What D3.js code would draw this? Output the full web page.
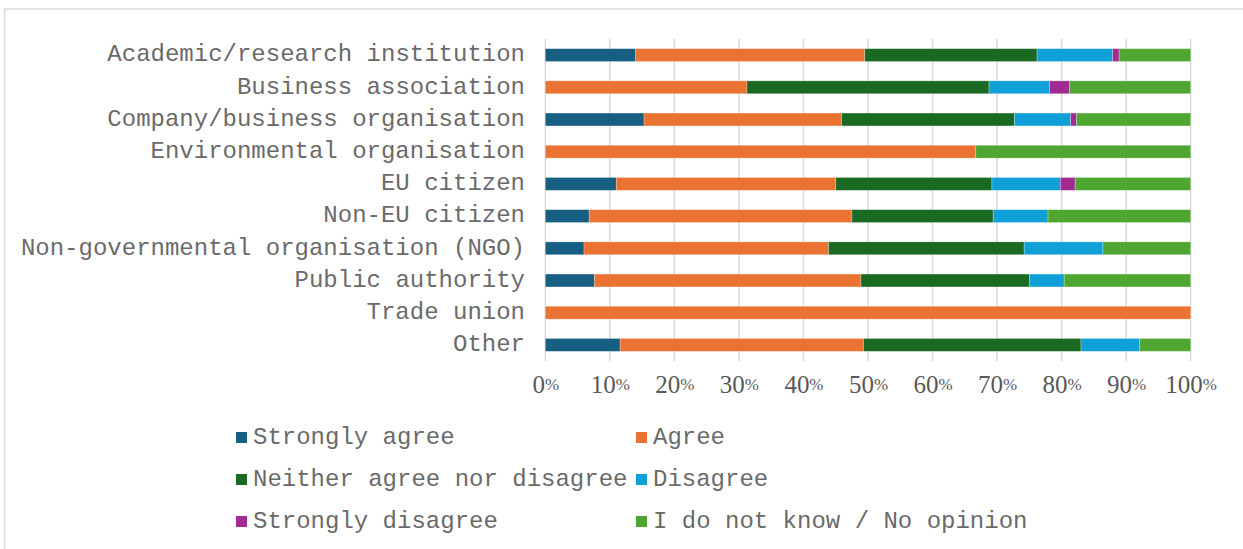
<!DOCTYPE html>
<html>
<head>
<meta charset="utf-8">
<script src="https://cdn.jsdelivr.net/npm/d3@7"></script>
<style>
  body { margin: 0; background: #fff; }
  svg { display: block; }
</style>
</head>
<body>
<script>
const categories = [
  'Academic/research institution',
  'Business association',
  'Company/business organisation',
  'Environmental organisation',
  'EU citizen',
  'Non-EU citizen',
  'Non-governmental organisation (NGO)',
  'Public authority',
  'Trade union',
  'Other'
]

const seriesNames = [
  'Strongly agree',
  'Agree',
  'Neither agree nor disagree',
  'Disagree',
  'Strongly disagree',
  'I do not know / No opinion'
]

// percentage per category, same order as categories
const stronglyAgree    = [14.0, 0,     15.3, 0,    11.0, 6.8,  6.0,  7.6,  0,   11.6]
const agree            = [35.5, 31.25, 30.6, 66.7, 34.0, 40.7, 37.9, 41.3, 100, 37.7]
const neither          = [26.7, 37.5,  26.8, 0,    24.2, 21.9, 30.3, 26.1, 0,   33.7]
const disagree         = [11.7, 9.375, 8.7,  0,    10.6, 8.5,  12.2, 5.4,  0,   9.1]
const stronglyDisagree = [1.0,  3.125, 0.9,  0,    2.3,  0,    0,    0,    0,   0]
const noOpinion        = [11.1, 18.75, 17.7, 33.3, 17.9, 22.1, 13.6, 19.6, 0,   7.9]

const xTicks = [0, 10, 20, 30, 40, 50, 60, 70, 80, 90, 100]

const colors = ['#175f82', '#ea7232', '#1a6a24', '#0fa0d8', '#a12b93', '#4fa732']

const allSeries = [stronglyAgree, agree, neither, disagree, stronglyDisagree, noOpinion]

const rows = categories.map((c, i) => {
  let r = { cat: c }
  seriesNames.forEach((s, j) => { r[s] = allSeries[j][i] })
  return r
})

const width = 1243
const height = 549
const textColor = '#6a6a6a'
const monoFont = '"Liberation Mono", "Courier New", monospace'

const svg = d3.select('body').append('svg')
  .attr('width', width)
  .attr('height', height)

// chart frame
svg.append('rect')
  .attr('x', 4.5)
  .attr('y', 9)
  .attr('width', 1250)
  .attr('height', 560)
  .attr('fill', 'none')
  .attr('stroke', '#d9d9d9')
  .attr('stroke-width', 1.5)

const x = d3.scaleLinear()
  .domain([0, 100])
  .range([545.3, 1190.7])

const y = d3.scaleBand()
  .domain(categories)
  .range([39, 361])
  .paddingInner(0.6)
  .paddingOuter(0.3)

// gridlines
svg.append('g')
  .selectAll('line')
  .data(xTicks)
  .enter().append('line')
    .attr('x1', (d) => x(d))
    .attr('x2', (d) => x(d))
    .attr('y1', 39)
    .attr('y2', 361)
    .attr('stroke', '#d9d9d9')
    .attr('stroke-width', 1.5)

// x axis labels
let xAxis = svg.append('g')
  .attr('transform', 'translate(0,361)')
  .call(d3.axisBottom(x)
    .tickValues(xTicks)
    .tickSize(0)
    .tickPadding(0)
    .tickFormat((d) => d))

xAxis.select('.domain').remove()
xAxis.selectAll('text')
  .attr('y', 0)
  .attr('dy', 32)
  .attr('fill', '#595959')
  .style('font-family', '"Liberation Serif", "Times New Roman", serif')
  .style('font-size', '25px')
  .append('tspan')
    .style('font-size', '17px')
    .attr('dy', -3)
    .text('%')

// category labels
svg.append('g')
  .selectAll('text')
  .data(categories)
  .enter().append('text')
    .attr('x', 525)
    .attr('y', (d) => y(d) + y.bandwidth() / 2)
    .attr('dy', '0.26em')
    .attr('text-anchor', 'end')
    .attr('fill', textColor)
    .style('font-family', monoFont)
    .style('font-size', '24px')
    .text((d) => d)

// stacked bars
const stacked = d3.stack().keys(seriesNames)(rows)

svg.append('g')
  .selectAll('g')
  .data(stacked)
  .enter().append('g')
    .attr('fill', (d, i) => colors[i])
  .selectAll('rect')
    .data((d) => d.filter((p) => p[1] - p[0] > 0))
  .enter().append('rect')
    .attr('x', (d) => x(d[0]))
    .attr('y', (d) => y(d.data.cat))
    .attr('width', (d) => x(d[1]) - x(d[0]))
    .attr('height', y.bandwidth())
    .attr('stroke', 'rgba(255,255,255,0.35)')
    .attr('stroke-width', 0.75)

// legend
const legendCols = [236, 636]
const legendRows = [437, 479, 521]

let legend = svg.append('g')
  .selectAll('g')
  .data(seriesNames)
  .enter().append('g')
    .attr('transform', (d, i) => 'translate(' + [legendCols[i % 2], legendRows[Math.floor(i / 2)]] + ')')

legend.append('rect')
  .attr('x', 0)
  .attr('y', -5)
  .attr('width', 11)
  .attr('height', 11)
  .attr('fill', (d, i) => colors[i])

legend.append('text')
  .attr('x', 17)
  .attr('y', 0)
  .attr('dy', '0.3em')
  .attr('fill', textColor)
  .style('font-family', monoFont)
  .style('font-size', '24px')
  .text((d) => d)
</script>
</body>
</html>
